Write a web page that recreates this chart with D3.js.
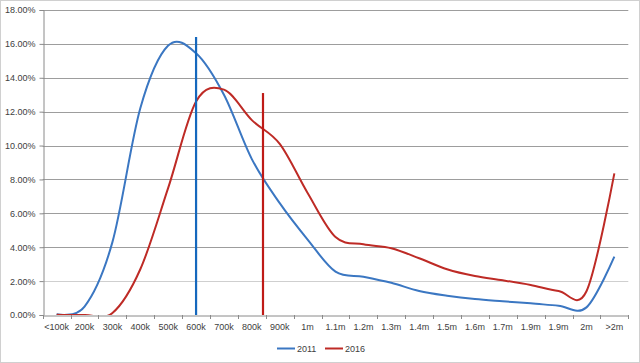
<!DOCTYPE html>
<html><head><meta charset="utf-8">
<script src="https://cdn.jsdelivr.net/npm/d3@7"></script>
<style>
html,body{margin:0;padding:0;background:#fff;}
svg{display:block;font-family:"Liberation Sans",Arial,sans-serif;}
</style></head>
<body>
<svg id="chart" width="640" height="363"></svg>
<script>
const categories = ["<100k","200k","300k","400k","500k","600k","700k","800k","900k","1m","1.1m","1.2m","1.3m","1.4m","1.5m","1.6m","1.7m","1.9m","1.9m","2m",">2m"];
const values2011 = [0.05,0.5,4.3,12.2,15.9,15.45,13.0,9.2,6.6,4.45,2.56,2.26,1.9,1.42,1.14,0.94,0.81,0.69,0.55,0.45,3.44];
const values2016 = [0.02,0.0,0.12,2.7,7.5,12.6,13.3,11.5,10.1,7.2,4.6,4.17,3.94,3.35,2.7,2.3,2.05,1.77,1.42,1.4,8.36];
const seriesNames = ["2011","2016"];
const medianPriceK = [600, 840];
const medianTop = [16.4, 13.1];
const yTicks = [0,2,4,6,8,10,12,14,16,18];

(function(){
const curveColors = ["#3b77c2","#be2b26"];
const medianColors = ["#1568bd","#bf1b17"];

const svg = d3.select("#chart");
svg.append("rect").attr("x",0.5).attr("y",0.5).attr("width",639).attr("height",362)
  .attr("fill","#fff").attr("stroke","#d0d0d0");

const pl = 42.7, pr = 628.3, pt = 10, pb = 315;
const x = d3.scaleBand().domain(d3.range(categories.length)).range([pl,pr]).padding(0);
const xIdx = d3.scaleLinear().domain([-0.5, categories.length-0.5]).range([pl,pr]);
const y = d3.scaleLinear().domain([0,18]).range([pb,pt]);
const priceToIdx = k => k/100 - 1;

svg.append("defs").append("clipPath").attr("id","plotclip").append("rect")
  .attr("x",pl).attr("y",pt-2).attr("width",pr-pl).attr("height",pb-pt+2);

// gridlines
svg.append("g").selectAll("line").data(yTicks.filter(d=>d>0)).join("line")
  .attr("x1",pl).attr("x2",pr)
  .attr("y1",d=>Math.round(y(d))+0.5).attr("y2",d=>Math.round(y(d))+0.5)
  .attr("stroke",d=>d===2?"#cfcfcf":"#9d9d9d").attr("stroke-width",1);

// y axis
const yAxis = d3.axisLeft(y).tickValues(yTicks).tickFormat(d=>d.toFixed(2)+"%").tickSize(4).tickPadding(4);
const gy = svg.append("g").attr("transform",`translate(${Math.round(pl)+0.5},0)`).call(yAxis);
gy.selectAll("path").attr("stroke","#8a8a8a");
gy.selectAll("line").attr("stroke","#8a8a8a");
gy.selectAll("text").attr("font-size","9px").attr("fill","#404040").attr("font-family","Liberation Sans, Arial, sans-serif");

// curves (clipped to plot area)
const line = d3.line()
  .x((d,i)=>x(i)+x.bandwidth()/2)
  .y(d=>y(d))
  .curve(d3.curveCatmullRom.alpha(0));
const gc = svg.append("g").attr("clip-path","url(#plotclip)");
[values2011, values2016].forEach((vals,k)=>{
  gc.append("path").datum(vals).attr("d",line).attr("fill","none")
    .attr("stroke",curveColors[k]).attr("stroke-width",2).attr("stroke-linejoin","round");
});

// x axis
const xAxis = d3.axisBottom(x).tickFormat(i=>categories[i]).tickSize(0).tickPadding(8);
const gx = svg.append("g").attr("transform",`translate(0,${pb+0.5})`).call(xAxis);
gx.selectAll("path").attr("stroke","#8a8a8a");
gx.selectAll("text").attr("font-size","9px").attr("fill","#404040").attr("font-family","Liberation Sans, Arial, sans-serif");
svg.append("g").selectAll("line").data(d3.range(categories.length+1)).join("line")
  .attr("x1",i=>Math.round(xIdx(i-0.5))+0.5).attr("x2",i=>Math.round(xIdx(i-0.5))+0.5)
  .attr("y1",pb).attr("y2",pb+4).attr("stroke","#8a8a8a");

// median lines
medianPriceK.forEach((p,k)=>{
  const xx = xIdx(priceToIdx(p));
  svg.append("line").attr("x1",xx).attr("x2",xx).attr("y1",y(0)).attr("y2",y(medianTop[k]))
    .attr("stroke",medianColors[k]).attr("stroke-width",2.2);
});

// legend
const legX = [277, 325];
seriesNames.forEach((s,k)=>{
  svg.append("line").attr("x1",legX[k]).attr("x2",legX[k]+18).attr("y1",348.5).attr("y2",348.5)
    .attr("stroke",curveColors[k]).attr("stroke-width",2);
  svg.append("text").attr("x",legX[k]+20).attr("y",351.5).text(s)
    .attr("font-size","9px").attr("fill","#404040");
});
})();
</script>
</body></html>
